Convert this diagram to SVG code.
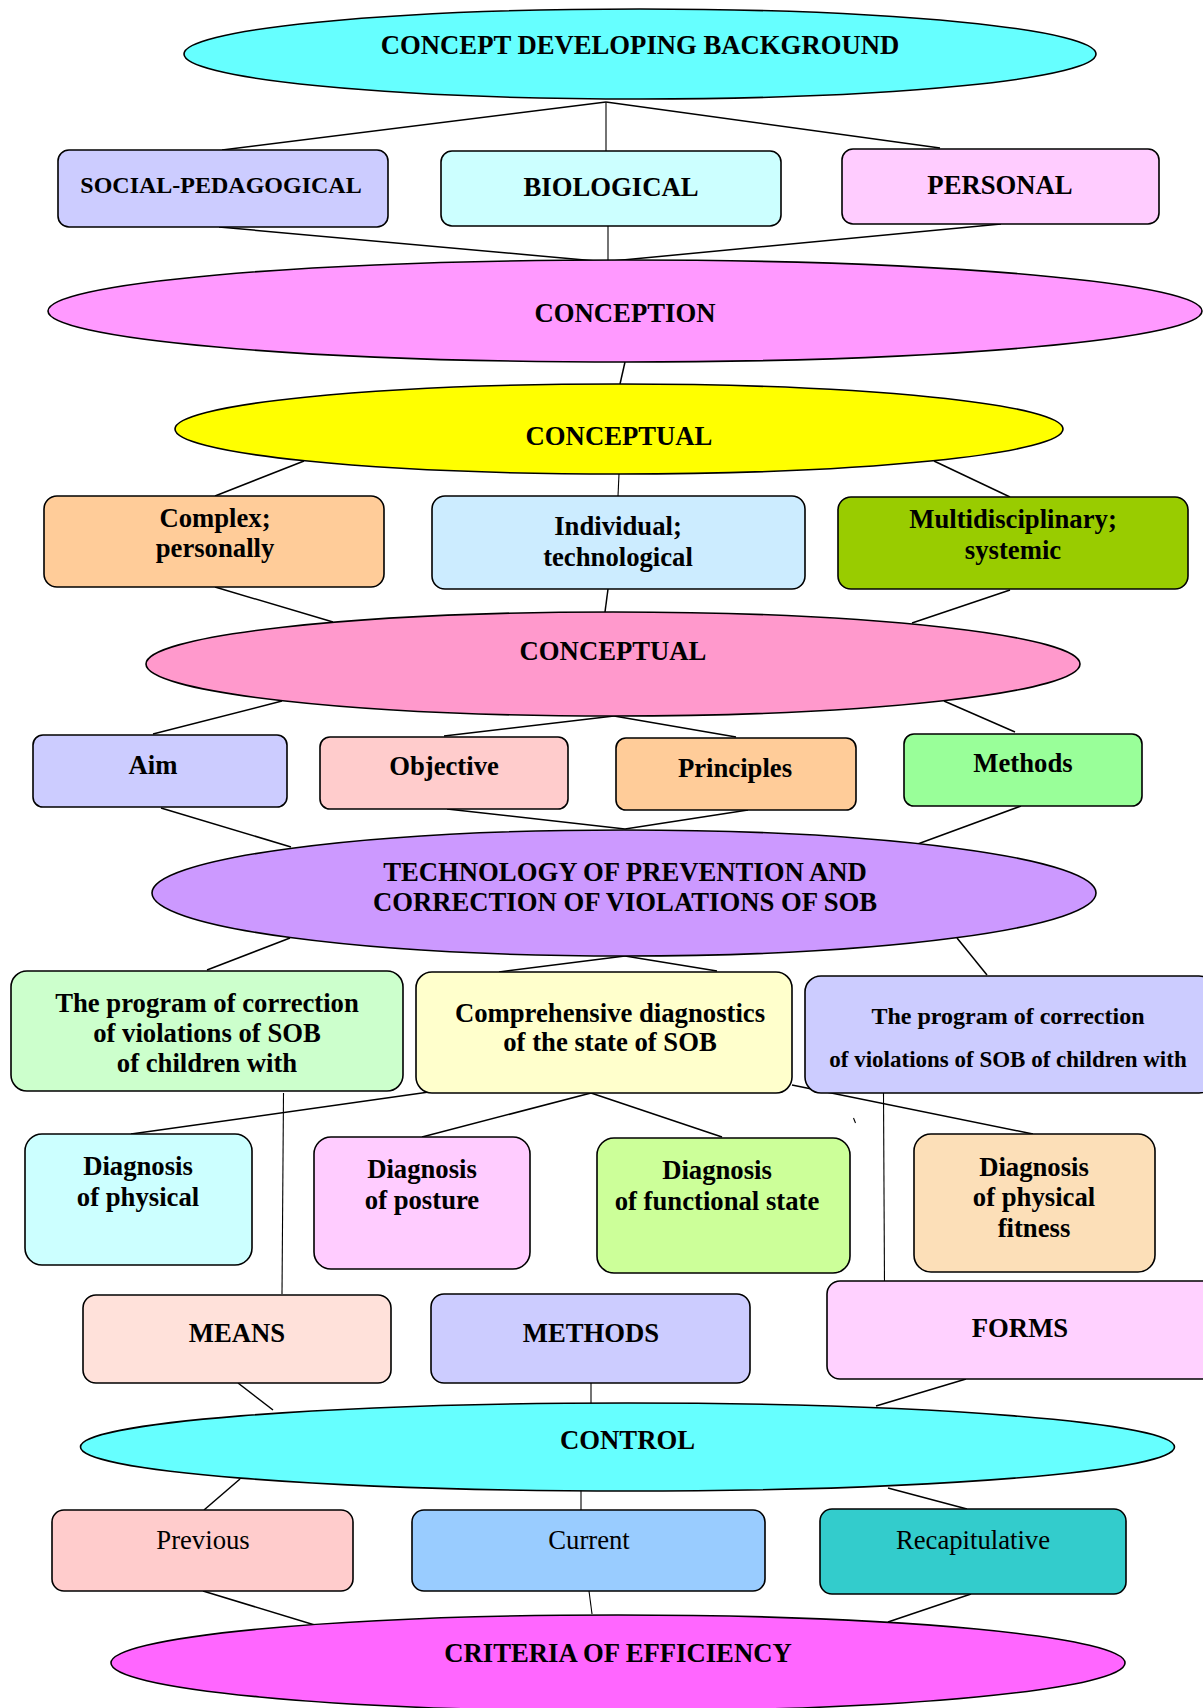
<svg xmlns="http://www.w3.org/2000/svg" width="1203" height="1708" viewBox="0 0 1203 1708">
<style>
.n{stroke:#000;stroke-width:1.6}
.t{font-family:"Liberation Serif","Times New Roman",serif;font-weight:bold;font-size:26.7px;text-anchor:middle;fill:#000}
.r{font-weight:normal}
.c line{stroke:#000;stroke-width:1.5}
.c .th{stroke-width:1.1}
</style>
<rect width="1203" height="1708" fill="#fff"/>
<g class="c">
<line x1="606" y1="102" x2="222" y2="150"/>
<line x1="606" y1="102" x2="606" y2="151" class="th"/>
<line x1="606" y1="102" x2="940" y2="148"/>
<line x1="219" y1="227" x2="607" y2="262"/>
<line x1="608" y1="226" x2="608" y2="262" class="th"/>
<line x1="1001" y1="224" x2="612" y2="261"/>
<line x1="625" y1="362" x2="620" y2="384"/>
<line x1="304" y1="461" x2="215" y2="496"/>
<line x1="619" y1="474" x2="618" y2="496" class="th"/>
<line x1="934" y1="461" x2="1010" y2="497"/>
<line x1="215" y1="587" x2="333" y2="622"/>
<line x1="608" y1="589" x2="605" y2="612"/>
<line x1="1010" y1="590" x2="912" y2="623"/>
<line x1="282" y1="701" x2="153" y2="734"/>
<line x1="614" y1="716" x2="444" y2="736"/>
<line x1="614" y1="716" x2="736" y2="737"/>
<line x1="944" y1="701" x2="1015" y2="732"/>
<line x1="161" y1="808" x2="291" y2="847"/>
<line x1="447" y1="809" x2="625" y2="829"/>
<line x1="748" y1="810" x2="625" y2="829"/>
<line x1="1021" y1="806" x2="915" y2="845"/>
<line x1="290" y1="938" x2="207" y2="970"/>
<line x1="625" y1="956" x2="499" y2="972"/>
<line x1="625" y1="956" x2="717" y2="971"/>
<line x1="957" y1="938" x2="987" y2="975"/>
<line x1="283.5" y1="1093" x2="282" y2="1294" class="th"/>
<line x1="883.5" y1="1093" x2="884.5" y2="1286" class="th"/>
<line x1="853.5" y1="1118" x2="855.5" y2="1123" class="th"/>
<line x1="429" y1="1092" x2="131" y2="1134"/>
<line x1="591" y1="1093" x2="422" y2="1137"/>
<line x1="591" y1="1093" x2="722" y2="1137"/>
<line x1="792" y1="1085" x2="1033" y2="1134"/>
<line x1="238" y1="1383" x2="273" y2="1410"/>
<line x1="591" y1="1383" x2="591" y2="1407" class="th"/>
<line x1="966" y1="1379" x2="876" y2="1406"/>
<line x1="240" y1="1479" x2="204" y2="1510"/>
<line x1="581" y1="1484" x2="581" y2="1513" class="th"/>
<line x1="888" y1="1488" x2="967" y2="1509"/>
<line x1="203" y1="1591" x2="318" y2="1626"/>
<line x1="589" y1="1591" x2="592" y2="1614" class="th"/>
<line x1="971" y1="1594" x2="888" y2="1622"/>
</g>
<g id="n-background"><ellipse class="n" cx="640" cy="54" rx="456" ry="45" fill="#66FFFF"/><text class="t" x="640" y="54">CONCEPT DEVELOPING BACKGROUND</text></g>
<g id="n-social"><rect class="n" x="58" y="150" width="330" height="77" rx="11" fill="#CCCCFF"/><text class="t" x="221" y="193" style="font-size:24px">SOCIAL-PEDAGOGICAL</text></g>
<g id="n-biological"><rect class="n" x="441" y="151" width="340" height="75" rx="11" fill="#CCFFFF"/><text class="t" x="611" y="196">BIOLOGICAL</text></g>
<g id="n-personal"><rect class="n" x="842" y="149" width="317" height="75" rx="11" fill="#FFCCFF"/><text class="t" x="1000" y="194">PERSONAL</text></g>
<g id="n-conception"><ellipse class="n" cx="625" cy="311" rx="577" ry="51" fill="#FF99FF"/><text class="t" x="625" y="322">CONCEPTION</text></g>
<g id="n-conceptual1"><ellipse class="n" cx="619" cy="429" rx="444" ry="45" fill="#FFFF00"/><text class="t" x="619" y="445">CONCEPTUAL</text></g>
<g id="n-complex"><rect class="n" x="44" y="496" width="340" height="91" rx="13" fill="#FFCC99"/><text class="t" x="215" y="527">Complex;</text><text class="t" x="215" y="557">personally</text></g>
<g id="n-individual"><rect class="n" x="432" y="496" width="373" height="93" rx="13" fill="#CCECFF"/><text class="t" x="618" y="535">Individual;</text><text class="t" x="618" y="566">technological</text></g>
<g id="n-multi"><rect class="n" x="838" y="497" width="350" height="92" rx="13" fill="#99CC00"/><text class="t" x="1013" y="528">Multidisciplinary;</text><text class="t" x="1013" y="559">systemic</text></g>
<g id="n-conceptual2"><ellipse class="n" cx="613" cy="664" rx="467" ry="52" fill="#FF99CC"/><text class="t" x="613" y="660">CONCEPTUAL</text></g>
<g id="n-aim"><rect class="n" x="33" y="735" width="254" height="72" rx="10" fill="#CCCCFF"/><text class="t" x="153" y="774">Aim</text></g>
<g id="n-objective"><rect class="n" x="320" y="737" width="248" height="72" rx="10" fill="#FFCCCC"/><text class="t" x="444" y="775">Objective</text></g>
<g id="n-principles"><rect class="n" x="616" y="738" width="240" height="72" rx="10" fill="#FFCC99"/><text class="t" x="735" y="777">Principles</text></g>
<g id="n-methods"><rect class="n" x="904" y="734" width="238" height="72" rx="10" fill="#99FF99"/><text class="t" x="1023" y="772">Methods</text></g>
<g id="n-technology"><ellipse class="n" cx="624" cy="893" rx="472" ry="63" fill="#CC99FF"/><text class="t" x="625" y="881">TECHNOLOGY OF PREVENTION AND</text><text class="t" x="625" y="911">CORRECTION OF VIOLATIONS OF SOB</text></g>
<g id="n-program1"><rect class="n" x="11" y="971" width="392" height="120" rx="16" fill="#CCFFCC"/><text class="t" x="207" y="1012">The program of correction</text><text class="t" x="207" y="1042">of violations of SOB</text><text class="t" x="207" y="1072">of children with</text></g>
<g id="n-diagnostics"><rect class="n" x="416" y="972" width="376" height="121" rx="16" fill="#FFFFCC"/><text class="t" x="610" y="1022">Comprehensive diagnostics</text><text class="t" x="610" y="1051">of the state of SOB</text></g>
<g id="n-program2"><rect class="n" x="805" y="976" width="410" height="117" rx="16" fill="#CCCCFF"/><text class="t" x="1008" y="1024" style="font-size:24px">The program of correction</text><text class="t" x="1008" y="1067" style="font-size:23px">of violations of SOB of children with</text></g>
<g id="n-diag-physical"><rect class="n" x="25" y="1134" width="227" height="131" rx="17" fill="#CCFFFF"/><text class="t" x="138" y="1175">Diagnosis</text><text class="t" x="138" y="1206">of physical</text></g>
<g id="n-diag-posture"><rect class="n" x="314" y="1137" width="216" height="132" rx="17" fill="#FFCCFF"/><text class="t" x="422" y="1178">Diagnosis</text><text class="t" x="422" y="1209">of posture</text></g>
<g id="n-diag-functional"><rect class="n" x="597" y="1138" width="253" height="135" rx="17" fill="#CCFF99"/><text class="t" x="717" y="1179">Diagnosis</text><text class="t" x="717" y="1210">of functional state</text></g>
<g id="n-diag-fitness"><rect class="n" x="914" y="1134" width="241" height="138" rx="17" fill="#FCDFB8"/><text class="t" x="1034" y="1176">Diagnosis</text><text class="t" x="1034" y="1206">of physical</text><text class="t" x="1034" y="1237">fitness</text></g>
<g id="n-means"><rect class="n" x="83" y="1295" width="308" height="88" rx="13" fill="#FFE1DA"/><text class="t" x="237" y="1342">MEANS</text></g>
<g id="n-methods2"><rect class="n" x="431" y="1294" width="319" height="89" rx="13" fill="#CCCCFF"/><text class="t" x="591" y="1342">METHODS</text></g>
<g id="n-forms"><rect class="n" x="827" y="1281" width="390" height="98" rx="13" fill="#FFD1FF"/><text class="t" x="1020" y="1337">FORMS</text></g>
<g id="n-control"><ellipse class="n" cx="627.5" cy="1447" rx="547" ry="44" fill="#66FFFF"/><text class="t" x="627.5" y="1449">CONTROL</text></g>
<g id="n-previous"><rect class="n" x="52" y="1510" width="301" height="81" rx="12" fill="#FFCCCC"/><text class="t r" x="203" y="1549">Previous</text></g>
<g id="n-current"><rect class="n" x="412" y="1510" width="353" height="81" rx="12" fill="#99CCFF"/><text class="t r" x="589" y="1549">Current</text></g>
<g id="n-recap"><rect class="n" x="820" y="1509" width="306" height="85" rx="12" fill="#33CCCC"/><text class="t r" x="973" y="1549">Recapitulative</text></g>
<g id="n-criteria"><ellipse class="n" cx="618" cy="1663" rx="507" ry="48" fill="#FF66FF"/><text class="t" x="618" y="1662">CRITERIA OF EFFICIENCY</text></g>
</svg>
